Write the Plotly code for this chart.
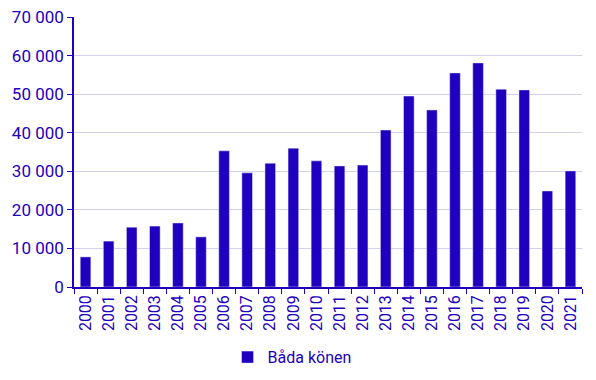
import plotly.graph_objects as go

years = [str(y) for y in range(2000, 2022)]
values = [7800, 11900, 15500, 15800, 16600, 13000, 35300, 29600, 32100, 36000,
          32700, 31400, 31600, 40700, 49500, 45900, 55500, 58100, 51300, 51100,
          24900, 30100]
series_name = "Båda könen"

blue = "#1e00be"

fig = go.Figure(go.Bar(x=years, y=values, name=series_name, marker_color=blue,
                       showlegend=True))

fig.update_layout(
    width=596, height=380,
    margin=dict(l=74, r=14, t=17, b=93),
    paper_bgcolor="white", plot_bgcolor="white",
    font=dict(family="Roboto", size=16.5, color=blue),
    bargap=0.54,
    separators=", ",
    legend=dict(orientation="h", xref="container", x=0.49, xanchor="center",
                yref="container", y=0.06, yanchor="middle",
                font=dict(size=16, color=blue), itemwidth=30),
    xaxis=dict(type="category", tickangle=-90, showline=True, linecolor=blue,
               linewidth=1.5, ticks="outside", tickson="boundaries", ticklen=5,
               tickcolor=blue, showgrid=False, automargin=False,
               tickfont=dict(size=16)),
    yaxis=dict(range=[0, 70000], dtick=10000, tickformat=",d", showline=True,
               linecolor=blue, linewidth=1.5, ticks="outside", ticklen=5,
               tickcolor=blue, gridcolor="#d2d2f0", gridwidth=1, zeroline=False,
               automargin=False, tickfont=dict(size=17)),
)

fig.write_html("out.html", config={"displayModeBar": False},
               post_script="document.body.style.margin='0';document.body.style.overflow='hidden';")
